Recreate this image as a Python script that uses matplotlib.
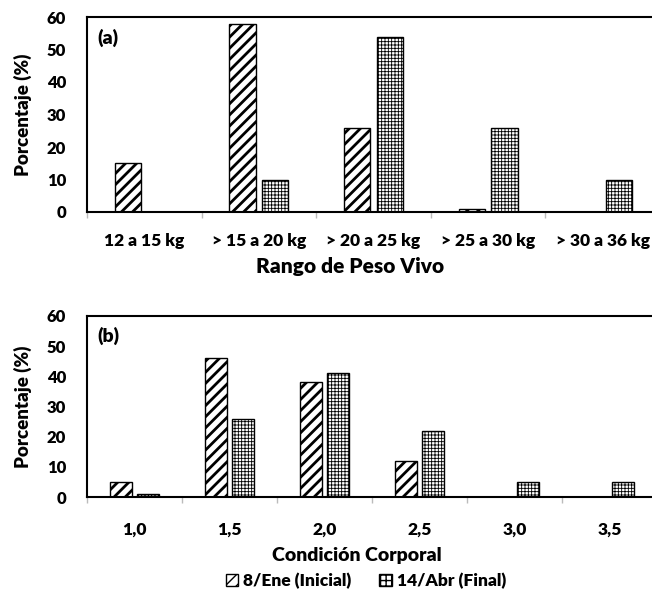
import matplotlib
matplotlib.use("Agg")
import matplotlib.pyplot as plt
import matplotlib.patches as mpatches
import matplotlib.transforms as mtransforms
import numpy as np

plt.rcParams['font.family'] = ['Lato', 'DejaVu Sans']
peso = 'heavy'

# Datos
rangos_peso = ["12 a 15 kg", "> 15 a 20 kg", "> 20 a 25 kg", "> 25 a 30 kg", "> 30 a 36 kg"]
peso_inicial = [15, 58, 26, 1, 0]
peso_final = [0, 10, 54, 26, 10]

condicion = ["1,0", "1,5", "2,0", "2,5", "3,0", "3,5"]
cond_inicial = [5, 46, 38, 12, 0, 0]
cond_final = [1, 26, 41, 22, 5, 5]

serie_inicial = "8/Ene (Inicial)"
serie_final = "14/Abr (Final)"

fig = plt.figure(figsize=(6.52, 5.91), dpi=100)

W, H = 652, 591
ax_a = fig.add_axes([87 / W, 1 - 212 / H, 573 / W, 195 / H])
ax_b = fig.add_axes([87 / W, 1 - 497 / H, 570 / W, 181 / H])

fs = 12.5


def barras(ax, cats, ini, fin, letra, xlabel, pad_x, fs_label, pos_label):
    x = np.arange(len(cats))
    ancho = 0.23
    sep = 0.028
    b1 = ax.bar(x - ancho / 2 - sep, ini, ancho, color='white', edgecolor='black',
                linewidth=1.0, hatch='///')
    b2 = ax.bar(x + ancho / 2 + sep, fin, ancho, color='white', edgecolor='black',
                linewidth=1.0, hatch='+++++')
    for p in b1:
        if hasattr(p, 'set_hatch_linewidth'):
            p.set_hatch_linewidth(2.0)
    for p in b2:
        if hasattr(p, 'set_hatch_linewidth'):
            p.set_hatch_linewidth(0.6)
    # ocultar barras en cero
    for p, v in zip(list(b1) + list(b2), list(ini) + list(fin)):
        if v == 0:
            p.set_visible(False)

    ax.set_xlim(-0.5, len(cats) - 0.5)
    ax.set_ylim(0, 60)
    ax.set_yticks(np.arange(0, 61, 10))
    ax.set_xticks(x)
    ax.set_xticklabels(cats, fontsize=fs, fontweight=peso)
    ax.set_xticks(np.arange(len(cats) + 1) - 0.5, minor=True)
    ax.tick_params(axis='x', which='major', length=0, pad=pad_x)
    ax.tick_params(axis='x', which='minor', length=4, color='#bbbbbb', width=1)
    ax.tick_params(axis='y', length=0, pad=15, labelsize=fs - 0.5)
    for lbl in ax.get_yticklabels():
        lbl.set_fontweight(peso)
    for s in ['left', 'top', 'bottom']:
        ax.spines[s].set_color('black')
        ax.spines[s].set_linewidth(1.5)
    ax.spines['right'].set_visible(False)
    ax.set_ylabel('Porcentaje (%)', fontsize=13.5, fontweight=peso)
    ax.yaxis.set_label_coords(-0.096, 0.5)
    ax.set_xlabel(xlabel, fontsize=fs_label, fontweight=peso, va='center')
    mezcla = mtransforms.blended_transform_factory(fig.transFigure, ax.transAxes)
    ax.xaxis.set_label_coords(pos_label[0], pos_label[1], transform=mezcla)
    ax.text(0.018, 0.94, letra, transform=ax.transAxes, fontsize=14,
            fontweight=peso, va='top', ha='left')


barras(ax_a, rangos_peso, peso_inicial, peso_final, '(a)', 'Rango de Peso Vivo', 15, 15,
       (350 / W, (212 - 266) / 195))
barras(ax_b, condicion, cond_inicial, cond_final, '(b)', 'Condición Corporal', 18, 14,
       (357 / W, (497 - 556) / 181))

h1 = mpatches.Patch(facecolor='white', edgecolor='black', hatch='///', label=serie_inicial)
h2 = mpatches.Patch(facecolor='white', edgecolor='black', hatch='+++', label=serie_final)
fig.legend(handles=[h1, h2], loc='center', bbox_to_anchor=(366 / W, 1 - 581 / H), ncol=2,
           frameon=False, prop={'size': 12.5, 'weight': peso},
           handlelength=0.7, handleheight=0.7, handletextpad=0.3, columnspacing=1.6)

fig.savefig('out.png', dpi=100)
